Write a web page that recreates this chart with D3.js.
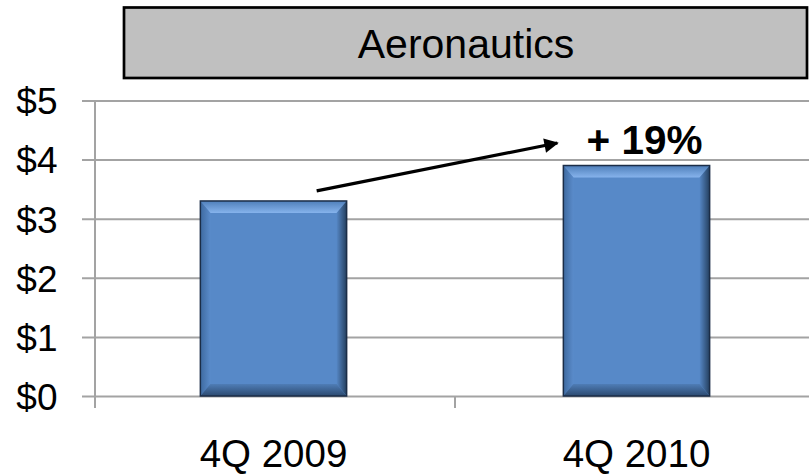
<!DOCTYPE html>
<html>
<head>
<meta charset="utf-8">
<script src="https://cdn.jsdelivr.net/npm/d3@7/dist/d3.min.js"></script>
<style>
  html, body { margin: 0; padding: 0; background: #ffffff; }
  svg { display: block; font-family: "Liberation Sans", Arial, sans-serif; }
</style>
</head>
<body>
<svg id="chart" width="809" height="476"></svg>
<script>
// Quarterly sales, $ billions
const categories = ["4Q 2009", "4Q 2010"];
const values = [3.3, 3.9];
const yTicks = [0, 1, 2, 3, 4, 5];
const title = "Aeronautics";
const growthLabel = "+ 19%";

const svg = d3.select("#chart");
const W = 809, H = 476;
const axisX = 95;

const y = d3.scaleLinear().domain([0, 5]).range([396, 100.5]);
const x = d3.scaleBand().domain(categories).range([92, 818]).paddingInner(0).paddingOuter(0);
const barW = x.step() * 0.403;

const defs = svg.append("defs");

// Title banner
svg.append("rect")
  .attr("x", 124).attr("y", 7.5).attr("width", 683).attr("height", 70.5)
  .attr("fill", "#c0c0c0").attr("stroke", "#000").attr("stroke-width", 2.7);
svg.append("text")
  .attr("x", 466).attr("y", 58)
  .attr("text-anchor", "middle")
  .attr("font-size", 41)
  .attr("fill", "#000")
  .text(title);

// Horizontal gridlines + y axis labels
const yAxis = d3.axisLeft(y)
  .tickValues(yTicks)
  .tickSize(-(W + 10 - axisX))
  .tickPadding(37.5)
  .tickFormat(d => "$" + d);
const gy = svg.append("g").attr("transform", `translate(${axisX},0)`).call(yAxis);
gy.select(".domain").remove();
gy.selectAll(".tick line")
  .attr("x1", -13)
  .attr("stroke", "#a3a3a3").attr("stroke-width", 2);
gy.selectAll(".tick text")
  .attr("font-size", 37).attr("fill", "#000")
  .attr("font-family", "'Liberation Sans', Arial, sans-serif")
  .attr("dy", "0.36em");

// Vertical axis line
svg.append("line")
  .attr("x1", axisX).attr("x2", axisX)
  .attr("y1", y(5)).attr("y2", y(0) + 12)
  .attr("stroke", "#a3a3a3").attr("stroke-width", 2);

// Category axis labels
const xAxis = d3.axisBottom(x).tickSize(0).tickPadding(0);
const gx = svg.append("g").attr("transform", `translate(0,${y(0)})`).call(xAxis);
gx.select(".domain").remove();
gx.selectAll(".tick text")
  .attr("font-size", 38.5).attr("fill", "#000")
  .attr("font-family", "'Liberation Sans', Arial, sans-serif")
  .attr("y", 71).attr("dy", 0);
// Boundary tick between categories
svg.append("line")
  .attr("x1", x(categories[1])).attr("x2", x(categories[1]))
  .attr("y1", y(0)).attr("y2", y(0) + 12)
  .attr("stroke", "#a3a3a3").attr("stroke-width", 2);

// Bevel gradients
function lin(id, x1, y1, x2, y2, stops) {
  const g = defs.append("linearGradient").attr("id", id)
    .attr("x1", x1).attr("y1", y1).attr("x2", x2).attr("y2", y2);
  stops.forEach(s => g.append("stop").attr("offset", s[0]).attr("stop-color", s[1]));
}
lin("bvTop", 0, 0, 0, 1, [[0, "#4f7fba"], [1, "#86b3ec"]]);
lin("bvLeft", 0, 0, 1, 0, [[0, "#3e6aa0"], [1, "#5a8bca"]]);
lin("bvRight", 0, 0, 1, 0, [[0, "#5586c4"], [1, "#25405f"]]);
lin("bvBottom", 0, 0, 0, 1, [[0, "#4f7db6"], [1, "#2c4a70"]]);

const bev = 12, bevSide = 10;
const bars = svg.selectAll("g.bar").data(values).join("g").attr("class", "bar");
bars.each(function (v, i) {
  const g = d3.select(this);
  const x0 = x(categories[i]) + (x.bandwidth() - barW) / 2;
  const x1 = x0 + barW;
  const y0 = y(v), y1 = y(0);
  g.append("rect").attr("x", x0).attr("y", y0).attr("width", barW).attr("height", y1 - y0)
    .attr("fill", "#5789c8");
  const poly = (pts, fill) => g.append("polygon")
    .attr("points", pts.map(p => p.join(",")).join(" ")).attr("fill", fill);
  poly([[x0, y0], [x1, y0], [x1 - bevSide, y0 + bev], [x0 + bevSide, y0 + bev]], "url(#bvTop)");
  poly([[x0, y0], [x0 + bevSide, y0 + bev], [x0 + bevSide, y1 - bev], [x0, y1]], "url(#bvLeft)");
  poly([[x1, y0], [x1, y1], [x1 - bevSide, y1 - bev], [x1 - bevSide, y0 + bev]], "url(#bvRight)");
  poly([[x0, y1], [x0 + bevSide, y1 - bev], [x1 - bevSide, y1 - bev], [x1, y1]], "url(#bvBottom)");
  g.append("rect").attr("x", x0).attr("y", y0).attr("width", barW).attr("height", y1 - y0)
    .attr("fill", "none").attr("stroke", "#1b2d47").attr("stroke-width", 1.5);
});

// Growth arrow from the first bar to the second
defs.append("marker").attr("id", "arrowHead")
  .attr("viewBox", "0 0 10 10").attr("refX", 9).attr("refY", 5)
  .attr("markerWidth", 5.5).attr("markerHeight", 4.5)
  .attr("markerUnits", "strokeWidth").attr("orient", "auto")
  .append("path").attr("d", "M0,0 L10,5 L0,10 Z").attr("fill", "#000");
const ax0 = x(categories[0]) + x.bandwidth() / 2 + barW / 2 - 30;
const ax1 = x(categories[1]) + (x.bandwidth() - barW) / 2 - 6;
svg.append("line")
  .attr("x1", ax0).attr("y1", y(3.47))
  .attr("x2", ax1).attr("y2", y(4.28))
  .attr("stroke", "#000").attr("stroke-width", 3.2)
  .attr("marker-end", "url(#arrowHead)");

// Growth label
svg.append("text")
  .attr("x", x(categories[1]) + x.bandwidth() / 2 + 8)
  .attr("y", 153.5)
  .attr("text-anchor", "middle")
  .attr("font-size", 40.5).attr("font-weight", "bold").attr("fill", "#000")
  .text(growthLabel);
</script>
</body>
</html>
